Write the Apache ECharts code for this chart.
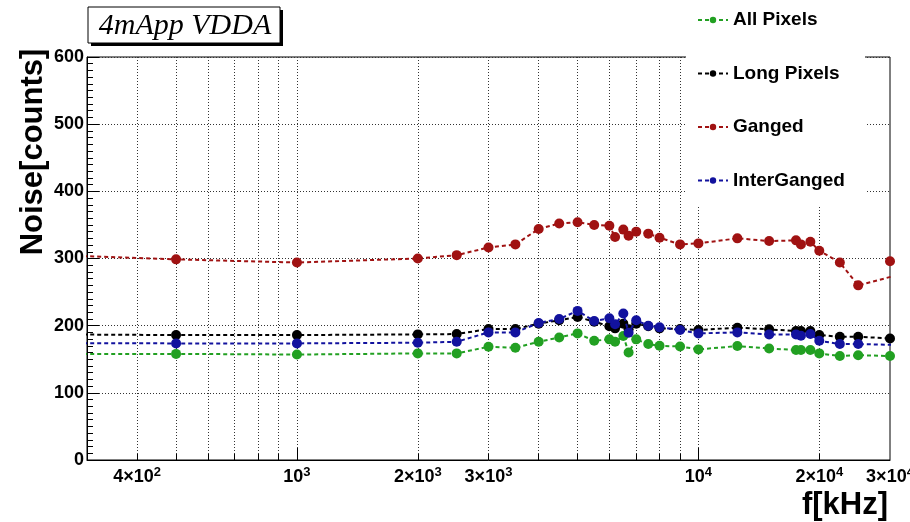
<!DOCTYPE html>
<html><head><meta charset="utf-8">
<script src="https://cdn.jsdelivr.net/npm/echarts@6/dist/echarts.min.js"></script>
<style>html,body{margin:0;padding:0;background:#fff}#c{width:910px;height:522px}</style>
</head><body><div id="c"></div>
<script>
// ---- data (frequency in kHz, noise in counts) ----
const allFreq   = [250, 500, 1000, 2000, 2500, 3000, 3500, 4000, 4500, 5000, 5500, 6000, 6200, 6500, 6700, 7000, 7500, 8000, 9000, 10000, 12500, 15000, 17500, 18000, 19000, 20000, 22500, 25000, 30000];
const allNoise  = [158, 158, 157, 158.7, 158.7, 168.6, 167, 176, 182.5, 188.5, 177.5, 179.6, 176, 184.5, 160, 179.6, 172.6, 170, 169, 164.7, 169.6, 166, 163.7, 163.7, 163.7, 158.7, 154.8, 156, 154.8];

const longFreq  = [250, 500, 1000, 2000, 2500, 3000, 3500, 4000, 4500, 5000, 5500, 6000, 6200, 6500, 6700, 7000, 7500, 8000, 9000, 10000, 12500, 15000, 17500, 18000, 19000, 20000, 22500, 25000, 30000];
const longNoise = [187, 186, 186, 187, 187.5, 195, 195, 203, 208, 213, 206, 199, 196, 203, 194.5, 203, 199, 196, 195, 193.5, 197, 194.5, 192, 192, 192, 186, 183.5, 183.5, 181];

const gangedFreq  = [250, 500, 1000, 2000, 2500, 3000, 3500, 4000, 4500, 5000, 5500, 6000, 6200, 6500, 6700, 7000, 7500, 8000, 9000, 10000, 12500, 15000, 17500, 18000, 19000, 20000, 22500, 25000, 40000, 30000];
const gangedNoise = [305, 298.7, 294, 300, 305, 316.5, 321, 344, 352, 354, 350, 348.7, 332, 343, 334, 340, 337, 331, 321, 322.5, 330, 326, 327, 321, 325, 311.5, 294, 260, 292, 296];

const interFreq  = [250, 500, 1000, 2000, 2500, 3000, 3500, 4000, 4500, 5000, 5500, 6000, 6200, 6500, 6700, 7000, 7500, 8000, 9000, 10000, 12500, 15000, 17500, 18000, 19000, 20000, 22500, 25000, 40000];
const interNoise = [174, 173.6, 173.6, 174.6, 176, 190, 190, 204, 210, 222, 207, 211, 202, 218, 189.5, 208, 200, 197.5, 193.5, 188.5, 190, 187, 187, 185, 187.5, 177.5, 172.6, 172.6, 170];

// ---- axis ticks / labels ----
const xTickFreq  = [400, 500, 600, 700, 800, 900, 1000, 2000, 3000, 4000, 5000, 6000, 7000, 8000, 9000, 10000, 20000];
const xMajorFreq = [1000, 10000];
const xLabelFreq = [400, 1000, 2000, 3000, 10000, 20000, 30000];
const xLabelMant = ['4', '', '2', '3', '', '2', '3'];
const xLabelExp  = ['2', '3', '3', '3', '4', '4', '4'];
const yTicks = [0, 100, 200, 300, 400, 500, 600];

const seriesNames  = ['All Pixels', 'Long Pixels', 'Ganged', 'InterGanged'];
const seriesColors = ['#22a022', '#000000', '#a01212', '#12129e'];

const pair = (f, v) => f.map((x, i) => [x, v[i]]);
const seriesData = [pair(allFreq, allNoise), pair(longFreq, longNoise), pair(gangedFreq, gangedNoise), pair(interFreq, interNoise)];

const FONT = '"Liberation Sans", Arial, Helvetica, sans-serif';

const chart = echarts.init(document.getElementById('c'), null, {renderer: 'canvas'});
const option = {
  animation: false,
  backgroundColor: '#fff',
  grid: {left: 87, right: 20, top: 57, bottom: 62, containLabel: false, outerBoundsMode: 'none',
    show: true, borderColor: '#000', borderWidth: 1, backgroundColor: 'transparent'},
  xAxis: [{
    type: 'log', logBase: 10, min: 300, max: 30000,
    axisLine: {show: true, lineStyle: {color: '#000', width: 1}},
    axisTick: {show: true, inside: true, length: 6, customValues: xTickFreq, lineStyle: {color: '#000'}},
    minorTick: {show: false},
    axisLabel: {
      show: true, customValues: xLabelFreq, margin: 6, showMinLabel: true, showMaxLabel: true, hideOverlap: false,
      formatter: function (v) {
        let best = 0;
        for (let i = 1; i < xLabelFreq.length; i++) {
          if (Math.abs(Math.log10(xLabelFreq[i]) - Math.log10(v)) < Math.abs(Math.log10(xLabelFreq[best]) - Math.log10(v))) best = i;
        }
        const m = xLabelMant[best];
        return (m ? '{b|' + m + '×10}' : '{b|10}') + '{s|' + xLabelExp[best] + '}';
      },
      rich: {
        b: {fontSize: 18, fontWeight: 'bold', fontFamily: FONT, color: '#000'},
        s: {fontSize: 13, fontWeight: 'bold', fontFamily: FONT, color: '#000', padding: [0, 0, 9, 0]}
      }
    },
    splitLine: {show: true, lineStyle: {type: [1, 2], color: '#333', width: 1}}
  }, {
    type: 'log', logBase: 10, min: 300, max: 30000, position: 'bottom',
    axisLine: {show: false},
    axisTick: {show: true, inside: true, length: 12, customValues: xMajorFreq, lineStyle: {color: '#000'}},
    axisLabel: {show: false},
    splitLine: {show: false}
  }],
  yAxis: {
    type: 'value', min: 0, max: 600, interval: 100,
    axisLine: {show: true, lineStyle: {color: '#000', width: 1}},
    axisTick: {show: true, inside: true, length: 12, lineStyle: {color: '#000'}},
    minorTick: {show: true, splitNumber: 10, length: 6, lineStyle: {color: '#000'}},
    axisLabel: {fontSize: 18, fontWeight: 'bold', fontFamily: FONT, color: '#000', margin: 3,
      formatter: v => String(yTicks[yTicks.indexOf(v)] ?? v)},
    splitLine: {show: true, lineStyle: {type: [1, 2], color: '#333', width: 1}}
  },
  legend: {
    orient: 'vertical', left: 697, top: 10, itemWidth: 30, itemHeight: 8, itemGap: 33.5, z: 110,
    padding: 0, data: seriesNames, selectedMode: false,
    textStyle: {fontSize: 19, fontWeight: 'bold', fontFamily: FONT, color: '#000', lineHeight: 20}
  },
  series: seriesNames.map((name, i) => ({
    name: name, type: 'line', data: seriesData[i], clip: true,
    symbol: 'circle', symbolSize: 10, showSymbol: true,
    itemStyle: {color: seriesColors[i]},
    lineStyle: {color: seriesColors[i], width: 2, type: [4, 3]},
    z: 2 + i
  })),
  graphic: [
    {type: 'rect', silent: true, z: 100, shape: {x: 686, y: 0, width: 179, height: 205}, style: {fill: '#fff'}},
    {type: 'rect', silent: true, z: 100, shape: {x: 91, y: 10, width: 192, height: 36}, style: {fill: '#000'}},
    {type: 'rect', silent: true, z: 101, shape: {x: 88, y: 7, width: 192, height: 36}, style: {fill: '#fff', stroke: '#000', lineWidth: 1}},
    {type: 'text', silent: true, z: 102, x: 185, y: 26,
      style: {text: '4mApp VDDA', fontSize: 30, fontStyle: 'italic', fontFamily: '"Liberation Serif", "Times New Roman", serif', fill: '#000', align: 'center', verticalAlign: 'middle'}},
    {type: 'text', silent: true, z: 102, x: 33, y: 152, rotation: Math.PI / 2,
      style: {text: 'Noise[counts]', fontSize: 31, fontWeight: 'bold', fontFamily: FONT, fill: '#000', align: 'center', verticalAlign: 'middle'}},
    {type: 'text', silent: true, z: 102, x: 888, y: 505,
      style: {text: 'f[kHz]', fontSize: 31, fontWeight: 'bold', fontFamily: FONT, fill: '#000', align: 'right', verticalAlign: 'middle'}}
  ]
};
chart.setOption(option);
</script>
</body></html>
